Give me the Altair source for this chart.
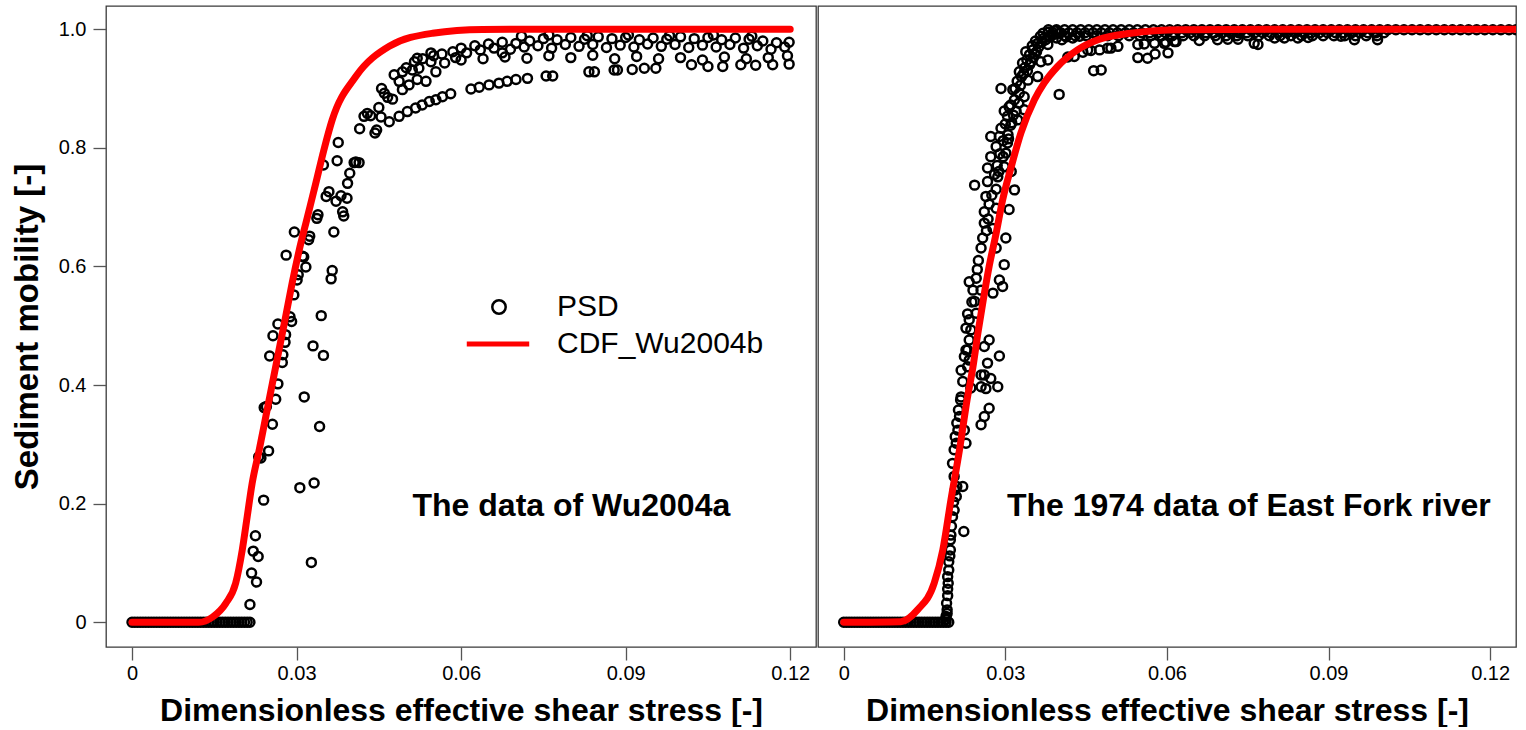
import altair as alt
import pandas as pd

FONT = "Liberation Sans"

# ---------------- left panel: data of Wu2004a ----------------
left_zero_x = [0.0000, 0.0005, 0.0010, 0.0015, 0.0020, 0.0025, 0.0030, 0.0035, 0.0040, 0.0045,
               0.0050, 0.0055, 0.0060, 0.0065, 0.0070, 0.0075, 0.0080, 0.0085, 0.0090, 0.0095,
               0.0100, 0.0105, 0.0110, 0.0115, 0.0120, 0.0125, 0.0130, 0.0135, 0.0140, 0.0145,
               0.0150, 0.0155, 0.0160, 0.0165, 0.0170, 0.0175, 0.0180, 0.0185, 0.0190, 0.0195,
               0.0200, 0.0205, 0.0210, 0.0215]

left_rise = [
    (0.0215, 0.030), (0.0227, 0.068), (0.0218, 0.083), (0.0230, 0.111), (0.0221, 0.120),
    (0.0225, 0.146), (0.0327, 0.101), (0.0240, 0.206), (0.0306, 0.227), (0.0332, 0.235),
    (0.0235, 0.277), (0.0249, 0.289), (0.0231, 0.279), (0.0342, 0.330), (0.0256, 0.334),
    (0.0241, 0.362), (0.0245, 0.364), (0.0262, 0.376), (0.0314, 0.380), (0.0266, 0.402),
    (0.0274, 0.438), (0.0349, 0.450), (0.0251, 0.449), (0.0275, 0.451), (0.0330, 0.466),
    (0.0279, 0.472), (0.0257, 0.483), (0.0280, 0.485), (0.0266, 0.503), (0.0291, 0.507),
    (0.0288, 0.515), (0.0345, 0.517), (0.0295, 0.552), (0.0301, 0.577), (0.0363, 0.579),
    (0.0365, 0.593), (0.0303, 0.586), (0.0317, 0.599), (0.0311, 0.617), (0.0313, 0.616),
    (0.0281, 0.619), (0.0322, 0.645), (0.0324, 0.651), (0.0368, 0.658), (0.0296, 0.658),
    (0.0337, 0.681), (0.0339, 0.687), (0.0386, 0.685), (0.0384, 0.692), (0.0372, 0.710),
    (0.0354, 0.718), (0.0359, 0.726), (0.0381, 0.719), (0.0392, 0.715), (0.0393, 0.740),
    (0.0397, 0.757), (0.0374, 0.778), (0.0349, 0.771), (0.0405, 0.775), (0.0408, 0.776),
    (0.0414, 0.775), (0.0376, 0.809), (0.0415, 0.832), (0.0423, 0.853), (0.0429, 0.858),
    (0.0435, 0.854), (0.0443, 0.825), (0.0446, 0.830), (0.0450, 0.868), (0.0454, 0.852),
    (0.0455, 0.900), (0.0460, 0.892), (0.0466, 0.885), (0.0475, 0.882), (0.0478, 0.923),
    (0.0493, 0.928), (0.0511, 0.931), (0.0523, 0.934), (0.0493, 0.898), (0.0487, 0.912),
    (0.0505, 0.906), (0.0520, 0.915), (0.0536, 0.912), (0.0554, 0.928), (0.0520, 0.951),
    (0.0545, 0.960),
]

left_lower_band = [
    (0.0469, 0.844), (0.0487, 0.853), (0.0502, 0.861), (0.0517, 0.867), (0.0529, 0.872),
    (0.0542, 0.878), (0.0554, 0.881), (0.0566, 0.886), (0.0581, 0.891), (0.0618, 0.899),
    (0.0633, 0.902), (0.0651, 0.906), (0.0669, 0.909), (0.0684, 0.912), (0.0700, 0.915),
    (0.0721, 0.917), (0.0755, 0.921), (0.0767, 0.921), (0.0833, 0.928), (0.0843, 0.928),
    (0.0879, 0.931), (0.0885, 0.931), (0.0912, 0.932), (0.0934, 0.934), (0.0955, 0.934),
]

left_upper_bands = [
    (0.0600, 0.968), (0.0625, 0.972), (0.0650, 0.975), (0.0675, 0.978), (0.0700, 0.976),
    (0.0725, 0.980), (0.0750, 0.984), (0.0775, 0.982), (0.0800, 0.986), (0.0825, 0.983),
    (0.0850, 0.987), (0.0875, 0.984), (0.0900, 0.986), (0.0925, 0.982), (0.0950, 0.985),
    (0.0975, 0.983), (0.1000, 0.987), (0.1025, 0.984), (0.1050, 0.986), (0.1075, 0.982),
    (0.1100, 0.985), (0.1125, 0.983), (0.1150, 0.980), (0.1175, 0.977), (0.1198, 0.978),
    (0.0500, 0.935), (0.0515, 0.945), (0.0530, 0.950), (0.0550, 0.955), (0.0565, 0.958),
    (0.0585, 0.962), (0.0610, 0.960), (0.0635, 0.965), (0.0660, 0.968), (0.0690, 0.966),
    (0.0715, 0.970), (0.0740, 0.972), (0.0765, 0.968), (0.0790, 0.974), (0.0815, 0.971),
    (0.0840, 0.974), (0.0865, 0.969), (0.0890, 0.973), (0.0915, 0.970), (0.0940, 0.975),
    (0.0965, 0.971), (0.0990, 0.974), (0.1015, 0.969), (0.1040, 0.973), (0.1065, 0.970),
    (0.1090, 0.974), (0.1115, 0.968), (0.1140, 0.972), (0.1165, 0.966), (0.1190, 0.970),
    (0.0570, 0.943), (0.0600, 0.948), (0.0640, 0.950), (0.0680, 0.953), (0.0720, 0.951),
    (0.0760, 0.955), (0.0800, 0.952), (0.0840, 0.956), (0.0880, 0.950), (0.0920, 0.954),
    (0.0960, 0.950), (0.1000, 0.952), (0.1040, 0.948), (0.1080, 0.953), (0.1120, 0.950),
    (0.1160, 0.952), (0.1195, 0.955),
    (0.1020, 0.940), (0.1050, 0.937), (0.1077, 0.937), (0.1110, 0.940), (0.1137, 0.939),
    (0.1168, 0.940), (0.1198, 0.941),
    (0.0710, 0.988), (0.0760, 0.990), (0.0830, 0.989), (0.0905, 0.990), (0.0980, 0.989),
    (0.1060, 0.990), (0.1130, 0.988), (0.0545, 0.945), (0.0590, 0.952), (0.0675, 0.960),
]

left_cdf_x = [0.0, 0.0122, 0.0147, 0.0171, 0.0189, 0.0201, 0.0210, 0.0219, 0.0232, 0.0244,
              0.0256, 0.0268, 0.0280, 0.0292, 0.0305, 0.0320, 0.0335, 0.0350, 0.0365, 0.0408,
              0.0469, 0.0548, 0.0639, 0.0800, 0.1200]
left_cdf_y = [0.0, 0.0, 0.009, 0.032, 0.066, 0.122, 0.178, 0.234, 0.291, 0.347,
              0.403, 0.459, 0.515, 0.572, 0.628, 0.684, 0.740, 0.797, 0.847, 0.920,
              0.971, 0.993, 0.9995, 1.0, 1.0]

# ---------------- right panel: 1974 data of East Fork river ----------------
right_zero_x = [0.0000, 0.0005, 0.0010, 0.0015, 0.0020, 0.0025, 0.0030, 0.0035, 0.0040, 0.0045,
                0.0050, 0.0055, 0.0060, 0.0065, 0.0070, 0.0075, 0.0080, 0.0085, 0.0090, 0.0095,
                0.0100, 0.0105, 0.0110, 0.0115, 0.0120, 0.0125, 0.0130, 0.0135, 0.0140, 0.0145,
                0.0150, 0.0155, 0.0160, 0.0165, 0.0170, 0.0175, 0.0180, 0.0185, 0.0190, 0.0195]

right_rise = [
    (0.0190, 0.005), (0.0190, 0.010), (0.0192, 0.015), (0.0192, 0.021), (0.0191, 0.032),
    (0.0193, 0.045), (0.0193, 0.056), (0.0194, 0.066), (0.0193, 0.077), (0.0195, 0.088),
    (0.0195, 0.102), (0.0197, 0.112), (0.0198, 0.122), (0.0198, 0.139), (0.0199, 0.147),
    (0.0223, 0.153), (0.0200, 0.162), (0.0202, 0.178), (0.0205, 0.189), (0.0204, 0.203),
    (0.0209, 0.212), (0.0207, 0.223), (0.0210, 0.229), (0.0221, 0.229), (0.0205, 0.246),
    (0.0202, 0.268), (0.0205, 0.291), (0.0209, 0.302), (0.0207, 0.313), (0.0212, 0.324),
    (0.0210, 0.336), (0.0215, 0.347), (0.0213, 0.358), (0.0217, 0.375), (0.0224, 0.324),
    (0.0227, 0.302), (0.0221, 0.406), (0.0218, 0.425), (0.0224, 0.448), (0.0230, 0.459),
    (0.0255, 0.333), (0.0261, 0.347), (0.0270, 0.361), (0.0255, 0.397), (0.0264, 0.394),
    (0.0273, 0.411), (0.0286, 0.397), (0.0289, 0.449), (0.0267, 0.437), (0.0255, 0.417),
    (0.0230, 0.431), (0.0218, 0.380), (0.0236, 0.395), (0.0261, 0.417), (0.0233, 0.442),
    (0.0227, 0.459), (0.0233, 0.476), (0.0227, 0.496), (0.0233, 0.510), (0.0236, 0.493),
    (0.0261, 0.465), (0.0270, 0.476), (0.0246, 0.521), (0.0243, 0.541), (0.0255, 0.560),
    (0.0277, 0.555), (0.0289, 0.577), (0.0295, 0.566), (0.0298, 0.603), (0.0233, 0.574),
    (0.0246, 0.580), (0.0283, 0.631), (0.0255, 0.631), (0.0258, 0.648), (0.0277, 0.664),
    (0.0301, 0.648), (0.0261, 0.673), (0.0261, 0.692), (0.0283, 0.698), (0.0307, 0.696),
    (0.0264, 0.718), (0.0243, 0.737), (0.0267, 0.743), (0.0286, 0.751), (0.0283, 0.730),
    (0.0317, 0.729), (0.0298, 0.768), (0.0267, 0.766), (0.0273, 0.785), (0.0283, 0.802),
    (0.0273, 0.819), (0.0289, 0.819), (0.0304, 0.808), (0.0301, 0.791), (0.0311, 0.760),
    (0.0292, 0.833), (0.0304, 0.853), (0.0307, 0.869), (0.0317, 0.881), (0.0292, 0.900),
    (0.0314, 0.898), (0.0326, 0.892), (0.0335, 0.886), (0.0326, 0.928), (0.0332, 0.943),
    (0.0345, 0.957), (0.0351, 0.965), (0.0360, 0.976), (0.0372, 0.985), (0.0400, 0.993),
    (0.0379, 0.974), (0.0366, 0.945), (0.0379, 0.948), (0.0360, 0.920), (0.0342, 0.914),
    (0.0335, 0.864), (0.0323, 0.847), (0.0400, 0.890), (0.0428, 0.954), (0.0453, 0.965),
    (0.0475, 0.965), (0.0496, 0.968), (0.0478, 0.931), (0.0509, 0.971), (0.0564, 0.951),
    (0.0602, 0.960), (0.0577, 0.976), (0.0595, 0.976), (0.0614, 0.979), (0.0464, 0.930),
    (0.0546, 0.952), (0.0578, 0.958), (0.0416, 0.953), (0.0444, 0.961), (0.0459, 0.964),
    (0.0490, 0.968), (0.0546, 0.974), (0.0558, 0.975), (0.0598, 0.978), (0.0617, 0.979),
    (0.0660, 0.981), (0.0694, 0.982), (0.0713, 0.983), (0.0732, 0.983), (0.0762, 0.976),
    (0.0769, 0.974), (0.0800, 0.985), (0.0818, 0.985), (0.0843, 0.985), (0.0862, 0.986),
    (0.0923, 0.988), (0.0948, 0.982), (0.0991, 0.982),
    (0.0290, 0.790), (0.0296, 0.812), (0.0300, 0.840), (0.0310, 0.838), (0.0298, 0.862),
    (0.0310, 0.872), (0.0318, 0.900), (0.0322, 0.912), (0.0330, 0.920), (0.0336, 0.935),
    (0.0340, 0.948), (0.0345, 0.940), (0.0338, 0.962), (0.0350, 0.972), (0.0356, 0.980),
    (0.0365, 0.988), (0.0370, 0.993), (0.0380, 0.995), (0.0388, 0.990), (0.0393, 0.997),
    (0.0355, 0.958), (0.0325, 0.875), (0.0315, 0.855), (0.0305, 0.822), (0.0285, 0.770),
    (0.0280, 0.755), (0.0275, 0.720), (0.0270, 0.705), (0.0268, 0.680), (0.0265, 0.660),
    (0.0250, 0.610), (0.0248, 0.595), (0.0240, 0.560), (0.0238, 0.540), (0.0230, 0.520),
    (0.0328, 0.905), (0.0334, 0.925), (0.0341, 0.930), (0.0348, 0.945), (0.0352, 0.952),
    (0.0358, 0.962), (0.0362, 0.970), (0.0368, 0.978), (0.0375, 0.982), (0.0383, 0.987),
    (0.0395, 0.985), (0.0405, 0.982), (0.0413, 0.987), (0.0425, 0.985), (0.0438, 0.988),
    (0.0320, 0.862), (0.0312, 0.842), (0.0306, 0.815), (0.0296, 0.785), (0.0288, 0.760),
]

right_top_band_x = [0.0380, 0.0395, 0.0410, 0.0425, 0.0440, 0.0455, 0.0470, 0.0485, 0.0500, 0.0515,
                    0.0530, 0.0545, 0.0560, 0.0575, 0.0590, 0.0605, 0.0620, 0.0635, 0.0650, 0.0665,
                    0.0680, 0.0695, 0.0710, 0.0725, 0.0740, 0.0755, 0.0770, 0.0785, 0.0800, 0.0815,
                    0.0830, 0.0845, 0.0860, 0.0875, 0.0890, 0.0905, 0.0920, 0.0935, 0.0950, 0.0965,
                    0.0980, 0.0995, 0.1010, 0.1025, 0.1040, 0.1055, 0.1070, 0.1085, 0.1100, 0.1115,
                    0.1130, 0.1145, 0.1160, 0.1175, 0.1190, 0.1205, 0.1220, 0.1235, 0.1248]
right_top_band2_x = [0.0388, 0.0403, 0.0418, 0.0433, 0.0448, 0.0463, 0.0478, 0.0493, 0.0508, 0.0523,
                     0.0538, 0.0553, 0.0568, 0.0583, 0.0598, 0.0613, 0.0628, 0.0643, 0.0658, 0.0673,
                     0.0688, 0.0703, 0.0718, 0.0733, 0.0748, 0.0763, 0.0778, 0.0793, 0.0808, 0.0823,
                     0.0838, 0.0853, 0.0868, 0.0883, 0.0898, 0.0913, 0.0928, 0.0943, 0.0958, 0.0973,
                     0.0988, 0.1003]
right_second_band_x = [0.0410, 0.0430, 0.0450, 0.0470, 0.0490, 0.0510, 0.0530, 0.0550, 0.0570, 0.0590,
                       0.0610, 0.0630, 0.0650, 0.0670, 0.0690, 0.0710, 0.0730, 0.0750, 0.0770, 0.0790,
                       0.0810, 0.0830, 0.0850, 0.0870, 0.0890, 0.0910, 0.0930, 0.0950, 0.0970, 0.0990]

right_cdf_x = [0.0, 0.0106, 0.0137, 0.0168, 0.0184, 0.0199, 0.0215, 0.0229, 0.0240, 0.0249,
               0.0259, 0.0270, 0.0283, 0.0295, 0.0311, 0.0329, 0.0354, 0.0372, 0.0397, 0.0434,
               0.0472, 0.0533, 0.0626, 0.0800, 0.1300]
right_cdf_y = [0.0, 0.001, 0.021, 0.066, 0.122, 0.206, 0.291, 0.375, 0.431, 0.487,
               0.543, 0.600, 0.656, 0.712, 0.768, 0.825, 0.881, 0.909, 0.937, 0.965,
               0.982, 0.993, 0.999, 1.0, 1.0]

# ---------------- tables ----------------
left_pts = ([(x, 0.0) for x in left_zero_x] + left_rise + left_lower_band + left_upper_bands)
left_df = pd.DataFrame(left_pts, columns=["x", "y"])
left_df["series"] = "PSD"
left_cdf = pd.DataFrame({"x": left_cdf_x, "y": left_cdf_y, "series": "CDF_Wu2004b"})

right_pts = ([(x, 0.0) for x in right_zero_x] + right_rise
             + [(x, 0.999) for x in right_top_band_x]
             + [(x, 0.994) for x in right_top_band2_x]
             + [(x, 0.989) for x in right_second_band_x])
right_df = pd.DataFrame(right_pts, columns=["x", "y"])
right_cdf = pd.DataFrame({"x": right_cdf_x, "y": right_cdf_y})

left_label = pd.DataFrame({"x": [0.0801], "y": [0.180], "t": ["The data of Wu2004a"]})
right_label = pd.DataFrame({"x": [0.0752], "y": [0.180], "t": ["The 1974 data of East Fork river"]})

X_TICKS = [0, 0.03, 0.06, 0.09, 0.12]
Y_TICKS = [0, 0.2, 0.4, 0.6, 0.8, 1.0]
Y_DOMAIN = [-0.0416, 1.039]

axis_common = dict(
    labelFont=FONT, labelFontSize=20, labelColor="black",
    titleFont=FONT, titleFontWeight="bold", titleColor="black",
    tickSize=13, tickColor="#555555", tickWidth=1.3, domain=False, grid=False,
)

x_axis = alt.Axis(values=X_TICKS,
                  labelExpr="datum.value == 0 ? '0' : format(datum.value, '.2f')",
                  title="Dimensionless effective shear stress [-]", titleFontSize=32,
                  labelPadding=3, titlePadding=12, **axis_common)
y_axis = alt.Axis(values=Y_TICKS,
                  labelExpr="datum.value == 0 ? '0' : format(datum.value, '.1f')",
                  title="Sediment mobility [-]", titleFontSize=33,
                  labelPadding=7, titlePadding=14, **axis_common)


def panel(pts, cdf, label, xdom, width, left):
    xs = alt.Scale(domain=xdom, nice=False, zero=False)
    ys = alt.Scale(domain=Y_DOMAIN, nice=False, zero=False)
    yax = y_axis if left else None
    pt_enc = dict(x=alt.X("x:Q", scale=xs, axis=x_axis), y=alt.Y("y:Q", scale=ys, axis=yax))
    if left:
        pt_enc["shape"] = alt.Shape(
            "series:N",
            scale=alt.Scale(domain=["PSD"], range=["circle"]),
            legend=alt.Legend(title=None, orient="none", legendX=378, legendY=286,
                              symbolSize=180, symbolStrokeWidth=2.5, symbolStrokeColor="black",
                              symbolFillColor="transparent",
                              labelFont=FONT, labelFontSize=30, labelColor="black",
                              labelOffset=43, labelLimit=0),
        )
    points = alt.Chart(pts).mark_point(
        shape="circle", filled=False, color="black", size=80, strokeWidth=2.5, opacity=1,
        clip=True
    ).encode(**pt_enc)

    ln_enc = dict(x="x:Q", y="y:Q")
    if left:
        ln_enc["color"] = alt.Color(
            "series:N",
            scale=alt.Scale(domain=["CDF_Wu2004b"], range=["#ff0000"]),
            legend=alt.Legend(title=None, orient="none", legendX=358, legendY=304,
                              symbolType="stroke", symbolSize=3900, symbolStrokeWidth=5,
                              labelFont=FONT, labelFontSize=30, labelColor="black",
                              labelOffset=25, labelLimit=0),
        )
    line = alt.Chart(cdf).mark_line(
        color="#ff0000", strokeWidth=7, strokeCap="round", interpolate="monotone", clip=True
    ).encode(**ln_enc)

    text = alt.Chart(label).mark_text(
        font=FONT, fontSize=32, fontWeight="bold", color="black",
        align="center", baseline="alphabetic"
    ).encode(x="x:Q", y="y:Q", text="t:N")

    return alt.layer(points, line, text).properties(width=width, height=641)


left_chart = panel(left_df, left_cdf, left_label, [-0.00474, 0.1247], 710, True)
right_chart = panel(right_df, right_cdf, right_label, [-0.00477, 0.1248], 698, False)

chart = alt.hconcat(left_chart, right_chart, spacing=0).properties(
    padding={"left": 10, "top": 5, "right": 2, "bottom": 0},
    background="white",
).configure_view(
    stroke="#3a3a3a", strokeWidth=1.3
)

chart.save("out.html", embed_options={"renderer": "svg", "actions": False})
